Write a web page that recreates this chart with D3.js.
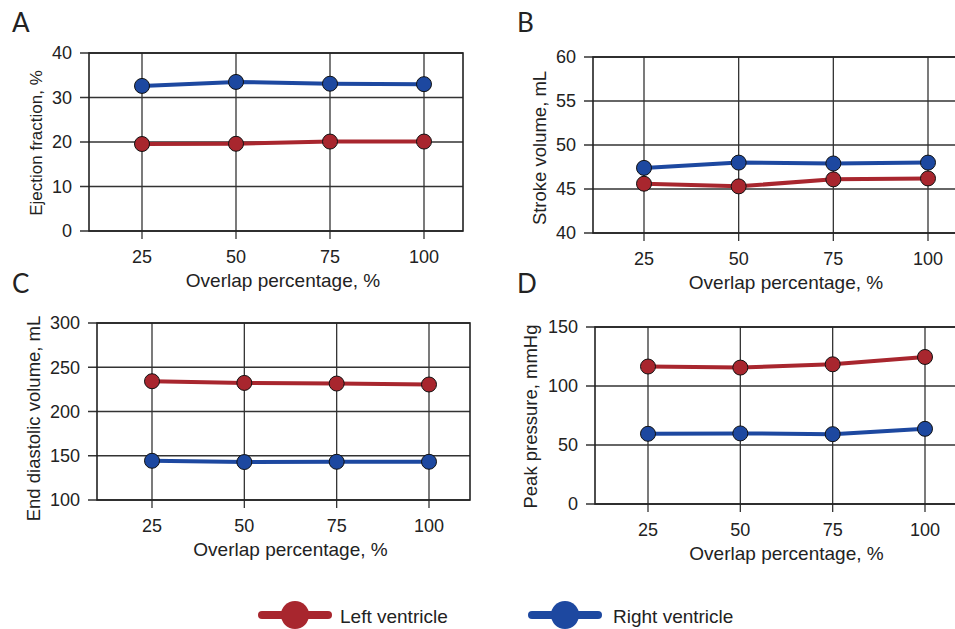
<!DOCTYPE html>
<html lang="en">
<head>
<meta charset="UTF-8">
<title>Ventricle metrics vs overlap</title>
<script src="https://cdn.jsdelivr.net/npm/d3@7"></script>
<style>
  body { margin: 0; padding: 0; background: #fff; }
  svg { display: block; }
  .tick-label { font-family: "Liberation Sans", Arial, sans-serif; font-size: 18px; fill: #222; }
  .axis-title { font-family: "Liberation Sans", Arial, sans-serif; font-size: 17px; fill: #222; }
  .x-title { font-size: 19px; }
  .panel-letter { font-family: "Lato", "Open Sans", sans-serif; font-weight: 400; font-size: 26px; fill: #222; }
  .legend-text { font-family: "Liberation Sans", Arial, sans-serif; font-size: 19px; fill: #222; }
  .grid line { stroke: #333; stroke-width: 1.3; }
  .frame { fill: none; stroke: #222; stroke-width: 1.6; }
</style>
</head>
<body>
<div id="chart"></div>
<script>
// data
const overlap = [25, 50, 75, 100];
const xTicks = [25, 50, 75, 100];

const efLeft = [19.55, 19.6, 20.1, 20.1];
const efRight = [32.6, 33.5, 33.1, 33.0];

const svLeft = [45.6, 45.3, 46.1, 46.2];
const svRight = [47.4, 48.0, 47.9, 48.0];

const edvLeft = [234.2, 232.3, 231.6, 230.5];
const edvRight = [144.3, 142.9, 143.2, 143.2];

const ppLeft = [116.5, 115.6, 118.4, 124.6];
const ppRight = [59.5, 59.8, 59.2, 63.7];

const seriesNames = ["Left ventricle", "Right ventricle"];
const colors = ["#a8262e", "#1d48a0"];

const width = 955, height = 629;

// panel layout (pixel boxes)
const panels = [
  { letter: "A", lx: 12, ly: 32, box: {l: 89, r: 463, t: 53, b: 231}, x25: 142, x100: 424,
    yDomain: [0, 40], yTicks: [0, 10, 20, 30, 40], yTitle: "Ejection fraction, %",
    yTitleX: 42, yTitleDy: 1, yTitleSize: 17, left: efLeft, right: efRight },
  { letter: "B", lx: 517, ly: 32, box: {l: 593, r: 960, t: 57, b: 233}, x25: 644, x100: 928,
    yDomain: [40, 60], yTicks: [40, 45, 50, 55, 60], yTitle: "Stroke volume, mL",
    yTitleX: 546, yTitleDy: 3, yTitleSize: 18.5, left: svLeft, right: svRight },
  { letter: "C", lx: 12, ly: 293, box: {l: 97, r: 470, t: 323, b: 500}, x25: 152, x100: 429,
    yDomain: [100, 300], yTicks: [100, 150, 200, 250, 300], yTitle: "End diastolic volume, mL",
    yTitleX: 40, yTitleDy: 7, yTitleSize: 18.5, left: edvLeft, right: edvRight },
  { letter: "D", lx: 517, ly: 293, box: {l: 595, r: 960, t: 327, b: 504}, x25: 648, x100: 925,
    yDomain: [0, 150], yTicks: [0, 50, 100, 150], yTitle: "Peak pressure, mmHg",
    yTitleX: 537, yTitleDy: 1, yTitleSize: 18.5, left: ppLeft, right: ppRight }
];

const svg = d3.select("#chart").append("svg")
  .attr("width", width)
  .attr("height", height);

panels.forEach(function(p) {
  const box = p.box;
  const x = d3.scaleLinear().domain([25, 100]).range([p.x25, p.x100]);
  const y = d3.scaleLinear().domain(p.yDomain).range([box.b, box.t]);
  const g = svg.append("g");

  g.append("text").attr("class", "panel-letter")
    .attr("x", p.lx).attr("y", p.ly).text(p.letter);

  // horizontal grid + y ticks (reach 9px past the frame)
  const grid = g.append("g").attr("class", "grid");
  grid.selectAll("line.h").data(p.yTicks).enter().append("line")
    .attr("class", "h")
    .attr("x1", box.l - 9).attr("x2", box.r)
    .attr("y1", function(d) { return y(d); })
    .attr("y2", function(d) { return y(d); });

  // vertical grid + x ticks
  grid.selectAll("line.v").data(xTicks).enter().append("line")
    .attr("class", "v")
    .attr("x1", function(d) { return x(d); })
    .attr("x2", function(d) { return x(d); })
    .attr("y1", box.t).attr("y2", box.b + 8);

  g.append("rect").attr("class", "frame")
    .attr("x", box.l).attr("y", box.t)
    .attr("width", box.r - box.l).attr("height", box.b - box.t);

  g.selectAll("text.ytick").data(p.yTicks).enter().append("text")
    .attr("class", "tick-label ytick")
    .attr("x", box.l - 17)
    .attr("y", function(d) { return y(d); })
    .attr("dy", "0.35em")
    .attr("text-anchor", "end")
    .text(function(d) { return d; });

  g.selectAll("text.xtick").data(xTicks).enter().append("text")
    .attr("class", "tick-label xtick")
    .attr("x", function(d) { return x(d); })
    .attr("y", box.b + 32)
    .attr("text-anchor", "middle")
    .text(function(d) { return d; });

  g.append("text").attr("class", "axis-title x-title")
    .attr("x", x(62.5)).attr("y", box.b + 56)
    .attr("text-anchor", "middle")
    .text("Overlap percentage, %");

  g.append("text").attr("class", "axis-title")
    .attr("transform", "translate(" + p.yTitleX + "," + ((box.t + box.b) / 2 + p.yTitleDy) + ") rotate(-90)")
    .attr("text-anchor", "middle")
    .style("font-size", p.yTitleSize + "px")
    .text(p.yTitle);

  const line = d3.line()
    .x(function(d, i) { return x(overlap[i]); })
    .y(function(d) { return y(d); });

  [p.left, p.right].forEach(function(vals, si) {
    g.append("path")
      .datum(vals)
      .attr("fill", "none")
      .attr("stroke", colors[si])
      .attr("stroke-width", 4)
      .attr("d", line);
    g.selectAll("circle.s" + si).data(vals).enter().append("circle")
      .attr("class", "s" + si)
      .attr("cx", function(d, i) { return x(overlap[i]); })
      .attr("cy", function(d) { return y(d); })
      .attr("r", 7.5)
      .attr("fill", colors[si])
      .attr("stroke", "#111")
      .attr("stroke-width", 1);
  });
});

// legend
const legendPos = [{x1: 258, x2: 332, cx: 295, tx: 340}, {x1: 528, x2: 602, cx: 565, tx: 613}];
const legend = svg.append("g");
seriesNames.forEach(function(name, i) {
  const lp = legendPos[i];
  legend.append("line")
    .attr("x1", lp.x1 + 4).attr("x2", lp.x2 - 4)
    .attr("y1", 615).attr("y2", 615)
    .attr("stroke", colors[i]).attr("stroke-width", 8)
    .attr("stroke-linecap", "round");
  legend.append("circle")
    .attr("cx", lp.cx).attr("cy", 615).attr("r", 14)
    .attr("fill", colors[i]);
  legend.append("text").attr("class", "legend-text")
    .attr("x", lp.tx).attr("y", 623)
    .text(name);
});
</script>
</body>
</html>
